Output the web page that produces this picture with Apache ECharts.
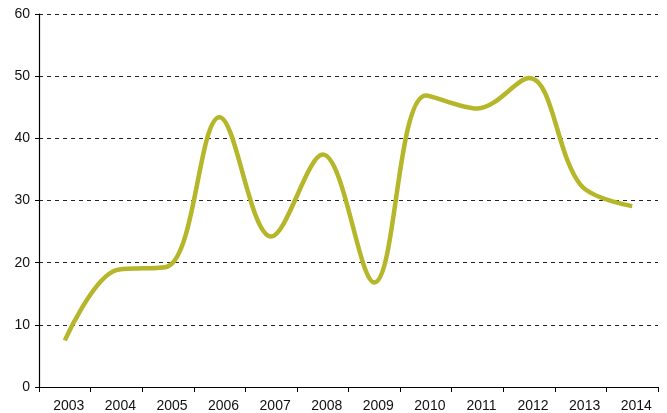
<!DOCTYPE html>
<html>
<head>
<meta charset="utf-8">
<script src="https://cdn.jsdelivr.net/npm/echarts@6/dist/echarts.min.js"></script>
<style>
  html, body { margin: 0; padding: 0; background: #fff; }
  #main { width: 667px; height: 413px; }
</style>
</head>
<body>
<div id="main"></div>
<script>
const years = ['2003', '2004', '2005', '2006', '2007', '2008', '2009', '2010', '2011', '2012', '2013', '2014']
const values = [7.5, 18.8, 19.4, 43.4, 24.2, 37.4, 16.8, 46.9, 44.8, 49.7, 32.5, 29.1]
const yTicks = { min: 0, max: 60, interval: 10 }

const chart = echarts.init(document.getElementById('main'))
const option = {
  animation: false,
  grid: { left: 39, right: 9, top: 14, bottom: 25, containLabel: false },
  xAxis: {
    type: 'category',
    data: years,
    boundaryGap: true,
    axisLine: { lineStyle: { color: '#000', width: 1.2 } },
    axisTick: { show: true, length: 5, lineStyle: { color: '#000' } },
    axisLabel: {
      color: '#111',
      fontSize: 14,
      fontFamily: 'Liberation Sans, Arial, sans-serif',
      margin: 12,
      padding: [0, 0, 0, 8]
    },
    splitLine: { show: false }
  },
  yAxis: {
    type: 'value',
    min: yTicks.min,
    max: yTicks.max,
    interval: yTicks.interval,
    axisLine: { show: true, lineStyle: { color: '#000', width: 1.2 } },
    axisTick: { show: true, length: 4, lineStyle: { color: '#000' } },
    axisLabel: {
      color: '#111',
      fontSize: 14,
      fontFamily: 'Liberation Sans, Arial, sans-serif',
      margin: 9
    },
    splitLine: {
      show: true,
      lineStyle: { color: '#222', type: [4, 4], width: 1 }
    }
  },
  series: [{
    type: 'line',
    data: values,
    smooth: 0.35,
    showSymbol: false,
    lineStyle: { color: '#b5b62a', width: 4.5, cap: 'butt' }
  }]
}
chart.setOption(option)
</script>
</body>
</html>
